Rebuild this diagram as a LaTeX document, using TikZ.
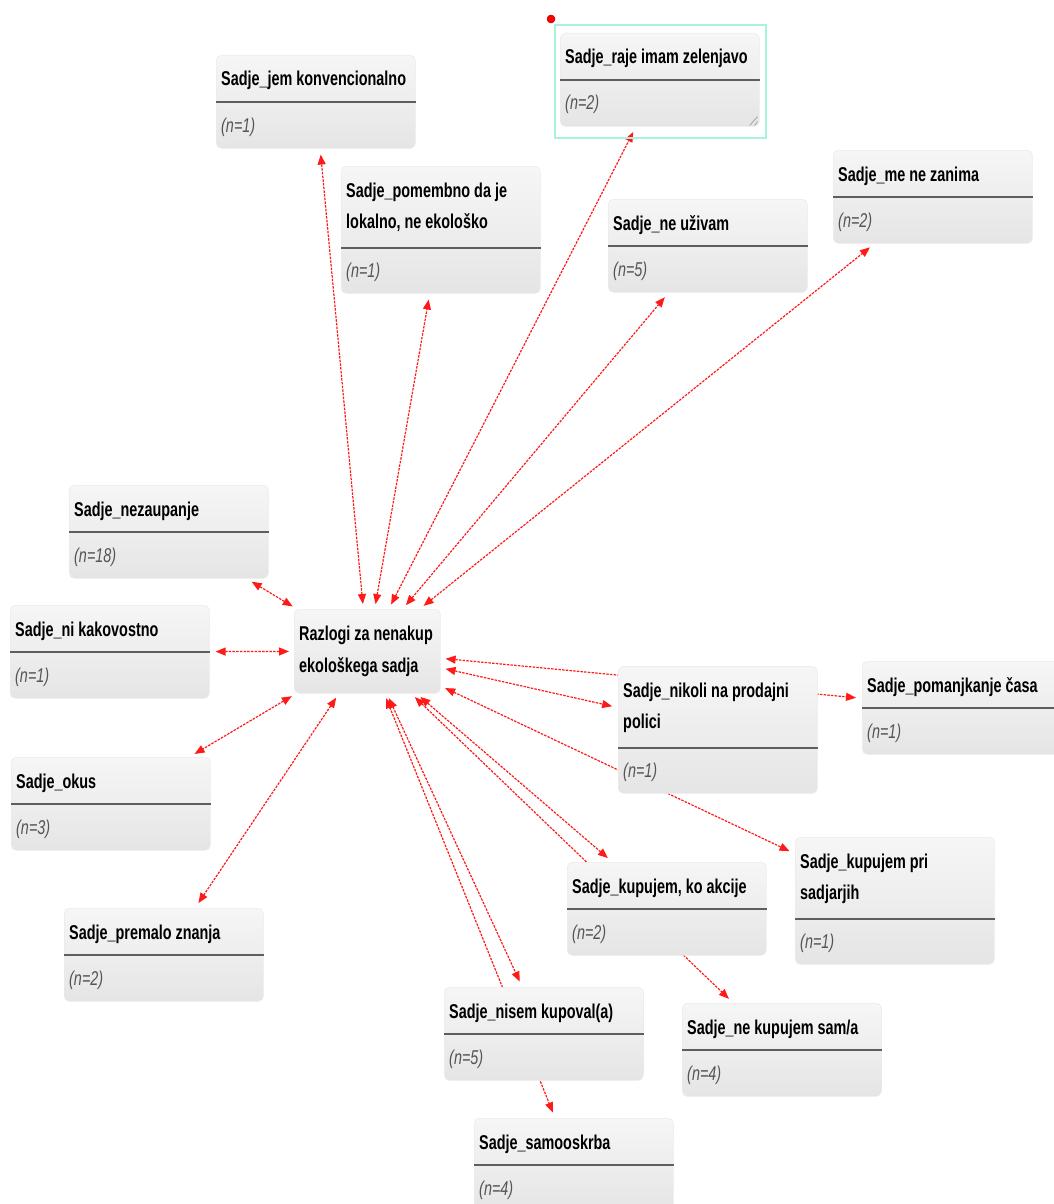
\documentclass[tikz,border=0pt]{standalone}
\usepackage{fontspec}
\setmainfont[FakeStretch=0.72]{Liberation Sans}
\usetikzlibrary{arrows.meta,backgrounds}

\definecolor{linkred}{HTML}{FF1A1A}
\definecolor{boxtop}{HTML}{F6F6F6}
\definecolor{boxbot}{HTML}{E5E5E5}
\definecolor{sepgray}{HTML}{5E5E5E}
\definecolor{countgray}{HTML}{555555}
\definecolor{selteal}{HTML}{A6F2DE}

\newcommand\catsize{\fontsize{20}{30}\selectfont}

\tikzset{
  catbox/.style={anchor=north west, minimum width=199pt, rounded corners=5pt,
    top color=boxtop, bottom color=boxbot, draw=black!8, line width=0.6pt, inner sep=0pt},
  cattitle/.style={anchor=base west, inner sep=0pt, font=\catsize\bfseries, text=black},
  catcount/.style={anchor=base west, inner sep=0pt, font=\catsize\itshape, text=countgray},
  catsep/.style={draw=sepgray, line width=2pt},
  link/.style={draw=linkred, line width=1.2pt, dash pattern=on 2.5pt off 1.2pt,
    {Triangle[length=10pt,width=8pt]}-{Triangle[length=10pt,width=8pt]},
    shorten <=5pt, shorten >=6pt},
}

% category box with a one-line title: name, left, top, title, count
\newcommand\catone[5]{%
  \node[catbox, minimum height=93pt] (#1) at (#2,#3) {};
  \node[cattitle] (#1-t) at ([shift={(5pt,-31pt)}]#1.north west) {#4};
  \draw[catsep] ([yshift=-47pt]#1.north west) -- ([yshift=-47pt]#1.north east);
  \node[catcount] (#1-n) at ([shift={(5pt,-77pt)}]#1.north west) {#5};
}
% category box with a two-line title: name, left, top, line 1, line 2, count
\newcommand\cattwo[6]{%
  \node[catbox, minimum height=127pt] (#1) at (#2,#3) {};
  \node[cattitle] (#1-t) at ([shift={(5pt,-31pt)}]#1.north west) {#4};
  \node[cattitle] (#1-u) at ([shift={(5pt,-62pt)}]#1.north west) {#5};
  \draw[catsep] ([yshift=-82pt]#1.north west) -- ([yshift=-82pt]#1.north east);
  \node[catcount] (#1-n) at ([shift={(5pt,-111pt)}]#1.north west) {#6};
}

\begin{document}
\begin{tikzpicture}[x=1pt, y=-1pt]
\useasboundingbox (0,0) rectangle (1054,1204);
\clip (0,0) rectangle (1054,1204);

% central code
\node[catbox, minimum width=146pt, minimum height=84pt] (ctr) at (294,609) {};
\node[cattitle] (ctr-t) at ([shift={(5pt,-31pt)}]ctr.north west) {Razlogi za nenakup};
\node[cattitle] (ctr-u) at ([shift={(5pt,-63pt)}]ctr.north west) {ekološkega sadja};

% linked codes
\catone{jem}{216}{55}{Sadje\_jem konvencionalno}{(n=1)}
\catone{raje}{560}{33}{Sadje\_raje imam zelenjavo}{(n=2)}
\cattwo{pomembno}{341}{166}{Sadje\_pomembno da je}{lokalno, ne ekološko}{(n=1)}
\catone{neuzivam}{608}{199}{Sadje\_ne uživam}{(n=5)}
\catone{zanima}{833}{150}{Sadje\_me ne zanima}{(n=2)}
\catone{nezaupanje}{69}{485}{Sadje\_nezaupanje}{(n=18)}
\catone{kakovost}{10}{605}{Sadje\_ni kakovostno}{(n=1)}
\cattwo{nikoli}{618}{666}{Sadje\_nikoli na prodajni}{polici}{(n=1)}
\catone{cas}{862}{661}{Sadje\_pomanjkanje časa}{(n=1)}
\catone{okus}{11}{757}{Sadje\_okus}{(n=3)}
\catone{znanje}{64}{908}{Sadje\_premalo znanja}{(n=2)}
\catone{akcije}{567}{862}{Sadje\_kupujem, ko akcije}{(n=2)}
\cattwo{sadjarji}{795}{837}{Sadje\_kupujem pri}{sadjarjih}{(n=1)}
\catone{nisem}{444}{987}{Sadje\_nisem kupoval(a)}{(n=5)}
\catone{sama}{682}{1003}{Sadje\_ne kupujem sam/a}{(n=4)}
\catone{samooskrba}{474}{1118}{Sadje\_samooskrba}{(n=4)}

% selection frame, handle and resize grip of the selected box
\draw[selteal, line width=2pt]
  ([shift={(-5pt,8pt)}]raje.north west) rectangle ([shift={(6pt,-11pt)}]raje.south east);
\filldraw[fill=red, draw=red!70!black, line width=0.5pt]
  ([shift={(-9pt,14pt)}]raje.north west) circle (4pt);
\draw[gray!70, line width=0.8pt]
  ([shift={(-10pt,1pt)}]raje.south east) -- ([shift={(-2pt,10pt)}]raje.south east)
  ([shift={(-5pt,1pt)}]raje.south east) -- ([shift={(-2pt,5pt)}]raje.south east);

% links from the central code, drawn behind the boxes
\begin{scope}[on background layer]
  \foreach \t in {jem,raje,pomembno,neuzivam,zanima,nezaupanje,kakovost,
                  nikoli,cas,okus,znanje,akcije,sadjarji,nisem,sama,samooskrba}
    \draw[link] (ctr) -- (\t);
\end{scope}
\end{tikzpicture}
\end{document}
